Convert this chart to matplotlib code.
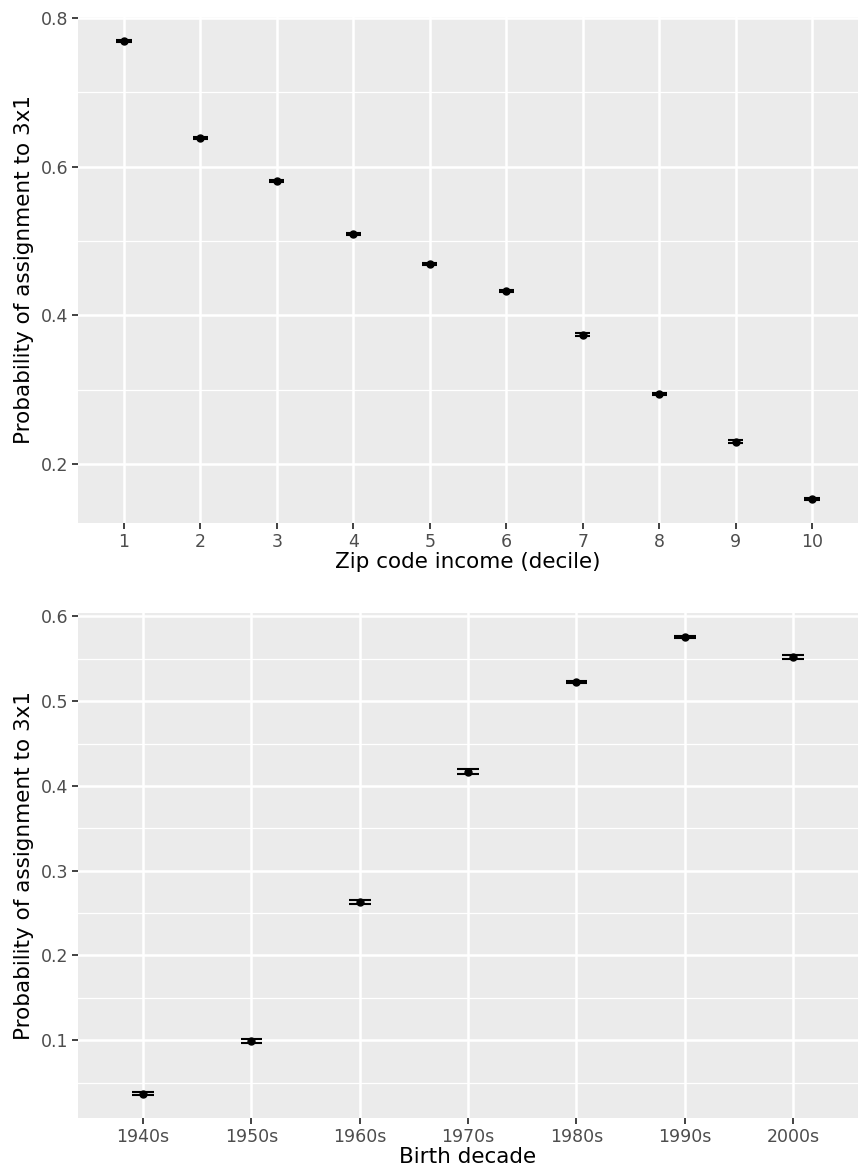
import numpy as np
import matplotlib
matplotlib.use('Agg')
import matplotlib.pyplot as plt

# Estimated probability of 3x1 assignment, with standard error bounds
income_deciles = ['1', '2', '3', '4', '5', '6', '7', '8', '9', '10']
income_prob = [0.769, 0.638, 0.580, 0.509, 0.469, 0.433, 0.374, 0.294, 0.230, 0.153]
income_se = [0.0015, 0.0015, 0.0015, 0.0015, 0.0015, 0.0015, 0.0015, 0.0015, 0.0015, 0.0015]

birth_decades = ['1940s', '1950s', '1960s', '1970s', '1980s', '1990s', '2000s']
birth_prob = [0.037, 0.099, 0.263, 0.417, 0.523, 0.576, 0.552]
birth_se = [0.0018, 0.0018, 0.0020, 0.0024, 0.0014, 0.0014, 0.0028]

PANEL = '#EBEBEB'
TICK_COL = '#4D4D4D'


def gg_panel(ax, labels, prob, se, xlabel, yticks, yminor):
    x = np.arange(len(labels))
    prob = np.asarray(prob)
    se = np.asarray(se)
    lo, hi = prob - se, prob + se

    # ggplot-like expansion: 5% of range on y, 0.6 units on discrete x
    pad = 0.05 * (hi.max() - lo.min())
    ax.set_ylim(lo.min() - pad, hi.max() + pad)
    ax.set_xlim(-0.6, len(labels) - 0.4)

    ax.set_facecolor(PANEL)
    for s in ax.spines.values():
        s.set_visible(False)
    ax.set_yticks(yticks)
    ax.set_yticks(yminor, minor=True)
    ax.set_xticks(x)
    ax.set_xticklabels(labels)
    ax.grid(which='major', color='white', linewidth=1.8)
    ax.grid(which='minor', axis='y', color='white', linewidth=0.9)
    ax.set_axisbelow(True)
    ax.tick_params(which='major', length=4, width=1.3, color='#333333',
                   labelsize=12.5, labelcolor=TICK_COL, pad=3)
    ax.tick_params(which='minor', length=0)

    # error bars: vertical line plus caps of width 0.2
    ax.vlines(x, lo, hi, color='black', linewidth=1.5, zorder=3)
    ax.hlines(lo, x - 0.1, x + 0.1, color='black', linewidth=1.5, zorder=3)
    ax.hlines(hi, x - 0.1, x + 0.1, color='black', linewidth=1.5, zorder=3)
    ax.plot(x, prob, 'o', color='black', markersize=5, zorder=4)

    ax.set_xlabel(xlabel, fontsize=15.5, labelpad=1)
    ax.set_ylabel('Probability of assignment to 3x1', fontsize=15.5, labelpad=5)


fig = plt.figure(figsize=(8.6, 11.7), dpi=100)
ax1 = fig.add_axes([0.0907, 0.553, 0.907, 0.4327])
ax2 = fig.add_axes([0.0907, 0.0444, 0.907, 0.432])

gg_panel(ax1, income_deciles, income_prob, income_se, 'Zip code income (decile)',
         [0.2, 0.4, 0.6, 0.8], [0.3, 0.5, 0.7])
gg_panel(ax2, birth_decades, birth_prob, birth_se, 'Birth decade',
         [0.1, 0.2, 0.3, 0.4, 0.5, 0.6], [0.05, 0.15, 0.25, 0.35, 0.45, 0.55])

fig.savefig('out.png', dpi=100, facecolor='white')
